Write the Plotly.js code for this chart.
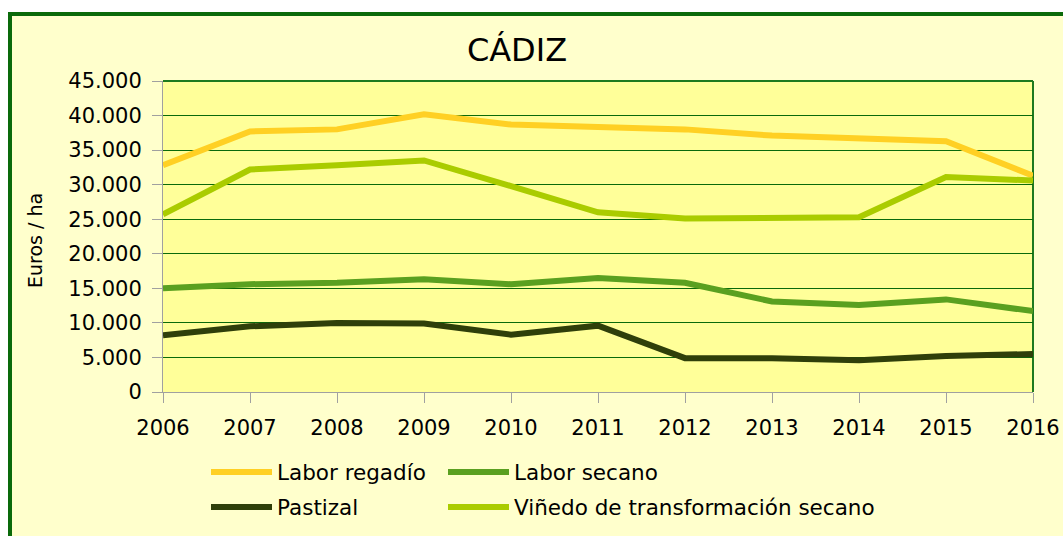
<!DOCTYPE html>
<html>
<head>
<meta charset="utf-8">
<script src="https://cdn.plot.ly/plotly-3.0.1.min.js"></script>
<style>
  html, body { margin: 0; padding: 0; background: #ffffff; width: 1063px; height: 536px; overflow: hidden; }
  #frame { position: absolute; left: 8px; top: 12px; width: 1100px; height: 600px;
           background: #FFFFCC; border-left: 4px solid #0A6A0A; border-top: 4px solid #0A6A0A; }
  #chart { position: absolute; left: 0; top: 0; width: 1063px; height: 536px; }
</style>
</head>
<body>
<div id="frame"></div>
<div id="chart"></div>
<script>
const years = [2006, 2007, 2008, 2009, 2010, 2011, 2012, 2013, 2014, 2015, 2016];
const laborRegadio = [32800, 37700, 38000, 40200, 38700, 38400, 38000, 37100, 36700, 36300, 31300];
const laborSecano = [15000, 15600, 15800, 16300, 15600, 16500, 15800, 13100, 12600, 13400, 11700];
const pastizal = [8200, 9500, 10000, 9900, 8300, 9600, 4900, 4900, 4600, 5200, 5500];
const vinedo = [25700, 32200, 32800, 33500, 29800, 26000, 25100, 25200, 25300, 31100, 30600];
const yTicks = [0, 5000, 10000, 15000, 20000, 25000, 30000, 35000, 40000, 45000];
const yTitle = 'Euros / ha';

const W = 1063, H = 536;
const L = 163, R = 30, T = 81, B = 144;
const PW = W - L - R, PH = H - T - B;
const legendFont = {family: '"DejaVu Sans", sans-serif', size: 21.5, color: '#000000'};

function tr(name, y, color, legend) {
  return {x: years, y: y, name: name, type: 'scatter', mode: 'lines',
          line: {color: color, width: 6}, legend: legend};
}

const data = [
  tr('Labor regadío', laborRegadio, '#FFD024', 'legend'),
  tr('Labor secano', laborSecano, '#5AA020', 'legend2'),
  tr('Pastizal', pastizal, '#2F3F0A', 'legend3'),
  tr('Viñedo de transformación secano', vinedo, '#AACC00', 'legend4')
];

function leg(px, py) {
  return {orientation: 'v', xref: 'container', yref: 'container', x: px / W, y: 1 - py / H,
          xanchor: 'left', yanchor: 'middle', bgcolor: 'rgba(0,0,0,0)', font: legendFont, itemwidth: 61};
}

const layout = {
  width: W, height: H,
  paper_bgcolor: 'rgba(0,0,0,0)',
  plot_bgcolor: '#FFFF99',
  separators: ',.',
  margin: {l: L, r: R, t: T, b: B, pad: 0, autoexpand: false},
  title: {text: 'CÁDIZ', font: {family: '"DejaVu Sans", sans-serif', size: 32, color: '#000000'},
          x: 517 / W, xref: 'container', xanchor: 'center', y: 1 - 50 / H, yref: 'container', yanchor: 'middle'},
  xaxis: {range: [2006, 2016], tickvals: years, ticktext: years.map(String), ticks: 'outside', ticklen: 10,
          tickcolor: '#A0A0A0', tickwidth: 1, showline: true, linecolor: '#A0A0A0', linewidth: 1,
          showgrid: false, zeroline: false, ticklabelstandoff: 7, automargin: false,
          tickfont: {family: '"DejaVu Sans", sans-serif', size: 21, color: '#000000'}},
  yaxis: {range: [0, 45000], tickvals: yTicks, tickformat: ',d', ticks: 'outside', ticklen: 10,
          tickcolor: '#A0A0A0', tickwidth: 1, showline: true, linecolor: '#A0A0A0', linewidth: 1,
          showgrid: true, gridcolor: '#0A6A0A', gridwidth: 1, zeroline: false, ticklabelstandoff: 6, automargin: false,
          tickfont: {family: '"DejaVu Sans", sans-serif', size: 21, color: '#000000'}},
  annotations: [
    {text: yTitle, xref: 'paper', yref: 'paper', x: (35 - L) / PW, y: (H - B - 241) / PH,
     xanchor: 'center', yanchor: 'middle', textangle: -90, showarrow: false,
     font: {family: '"DejaVu Sans", sans-serif', size: 19, color: '#000000'}}
  ],
  shapes: [
    {type: 'line', xref: 'paper', yref: 'paper', x0: 0, x1: 1, y0: 1, y1: 1, line: {color: '#1E7A1E', width: 2}, layer: 'below'},
    {type: 'line', xref: 'paper', yref: 'paper', x0: 1, x1: 1, y0: 0, y1: 1, line: {color: '#1E7A1E', width: 2}, layer: 'below'}
  ],
  legend: leg(206, 472),
  legend2: leg(443, 472),
  legend3: leg(206, 507),
  legend4: leg(443, 507),
  showlegend: true
};

Plotly.newPlot('chart', data, layout, {displayModeBar: false, staticPlot: true});
</script>
</body>
</html>
